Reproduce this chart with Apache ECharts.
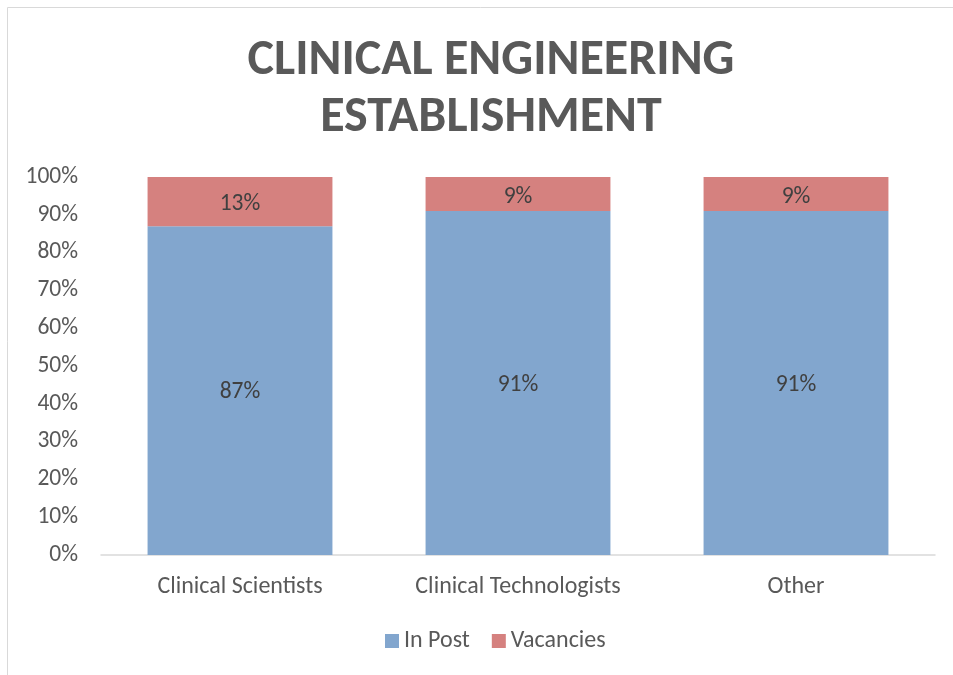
<!DOCTYPE html>
<html><head><meta charset="utf-8">
<script src="https://cdn.jsdelivr.net/npm/echarts@6/dist/echarts.min.js"></script>
<style>html,body{margin:0;padding:0;background:#fff}#c{width:953px;height:675px}</style>
</head><body><div id="c"></div>
<script>
const categories = ['Clinical Scientists', 'Clinical Technologists', 'Other'];
const inPost = [87, 91, 91];
const vacancies = [13, 9, 9];
const yTicks = [0, 10, 20, 30, 40, 50, 60, 70, 80, 90, 100];

const chart = echarts.init(document.getElementById('c'));
const font = 'Calibri, Carlito, "Open Sans", "Liberation Sans", sans-serif';
chart.setOption({
  animation: false,
  graphic: [{type:'rect', shape:{x:7.5,y:7.5,width:960,height:680}, style:{fill:'none', stroke:'#d9d9d9', lineWidth:1}, silent:true}],
  title: {
    text: 'CLINICAL ENGINEERING\nESTABLISHMENT',
    left: 486, top: 28, textAlign: 'center',
    textStyle: {fontFamily: font, fontWeight: 'bold', fontSize: 50, color: '#595959', lineHeight: 57}
  },
  legend: {
    bottom: 17, left: 380, itemWidth: 14, itemHeight: 14, itemGap: 22,
    icon: 'rect',
    textStyle: {fontFamily: font, fontSize: 24, color: '#595959'},
    data: ['In Post', 'Vacancies']
  },
  grid: {left: 101, right: 18, top: 177, bottom: 120},
  xAxis: {
    type: 'category', data: categories,
    axisLine: {lineStyle: {color: '#d9d9d9', width: 1.5}},
    axisTick: {show: false},
    axisLabel: {fontFamily: font, fontSize: 24, color: '#595959', margin: 20}
  },
  yAxis: {
    type: 'value', min: 0, max: 100, interval: 10,
    axisLine: {show: false}, axisTick: {show: false}, splitLine: {show: false},
    axisLabel: {fontFamily: font, fontSize: 23.5, color: '#595959', margin: 23,
      formatter: v => yTicks.includes(v) ? v + '%' : ''}
  },
  series: [
    {name: 'In Post', type: 'bar', stack: 's', data: inPost, barWidth: '66.5%',
     itemStyle: {color: '#82A6CE'},
     label: {show: true, position: 'inside', formatter: p => p.value + '%', fontFamily: font, fontSize: 23.5, color: '#404040', offset: [0, 2]}},
    {name: 'Vacancies', type: 'bar', stack: 's', data: vacancies, barWidth: '66.5%',
     itemStyle: {color: '#D5817F'},
     label: {show: true, position: 'inside', formatter: p => p.value + '%', fontFamily: font, fontSize: 23.5, color: '#404040', offset: [0, 3]}}
  ]
});
</script></body></html>
